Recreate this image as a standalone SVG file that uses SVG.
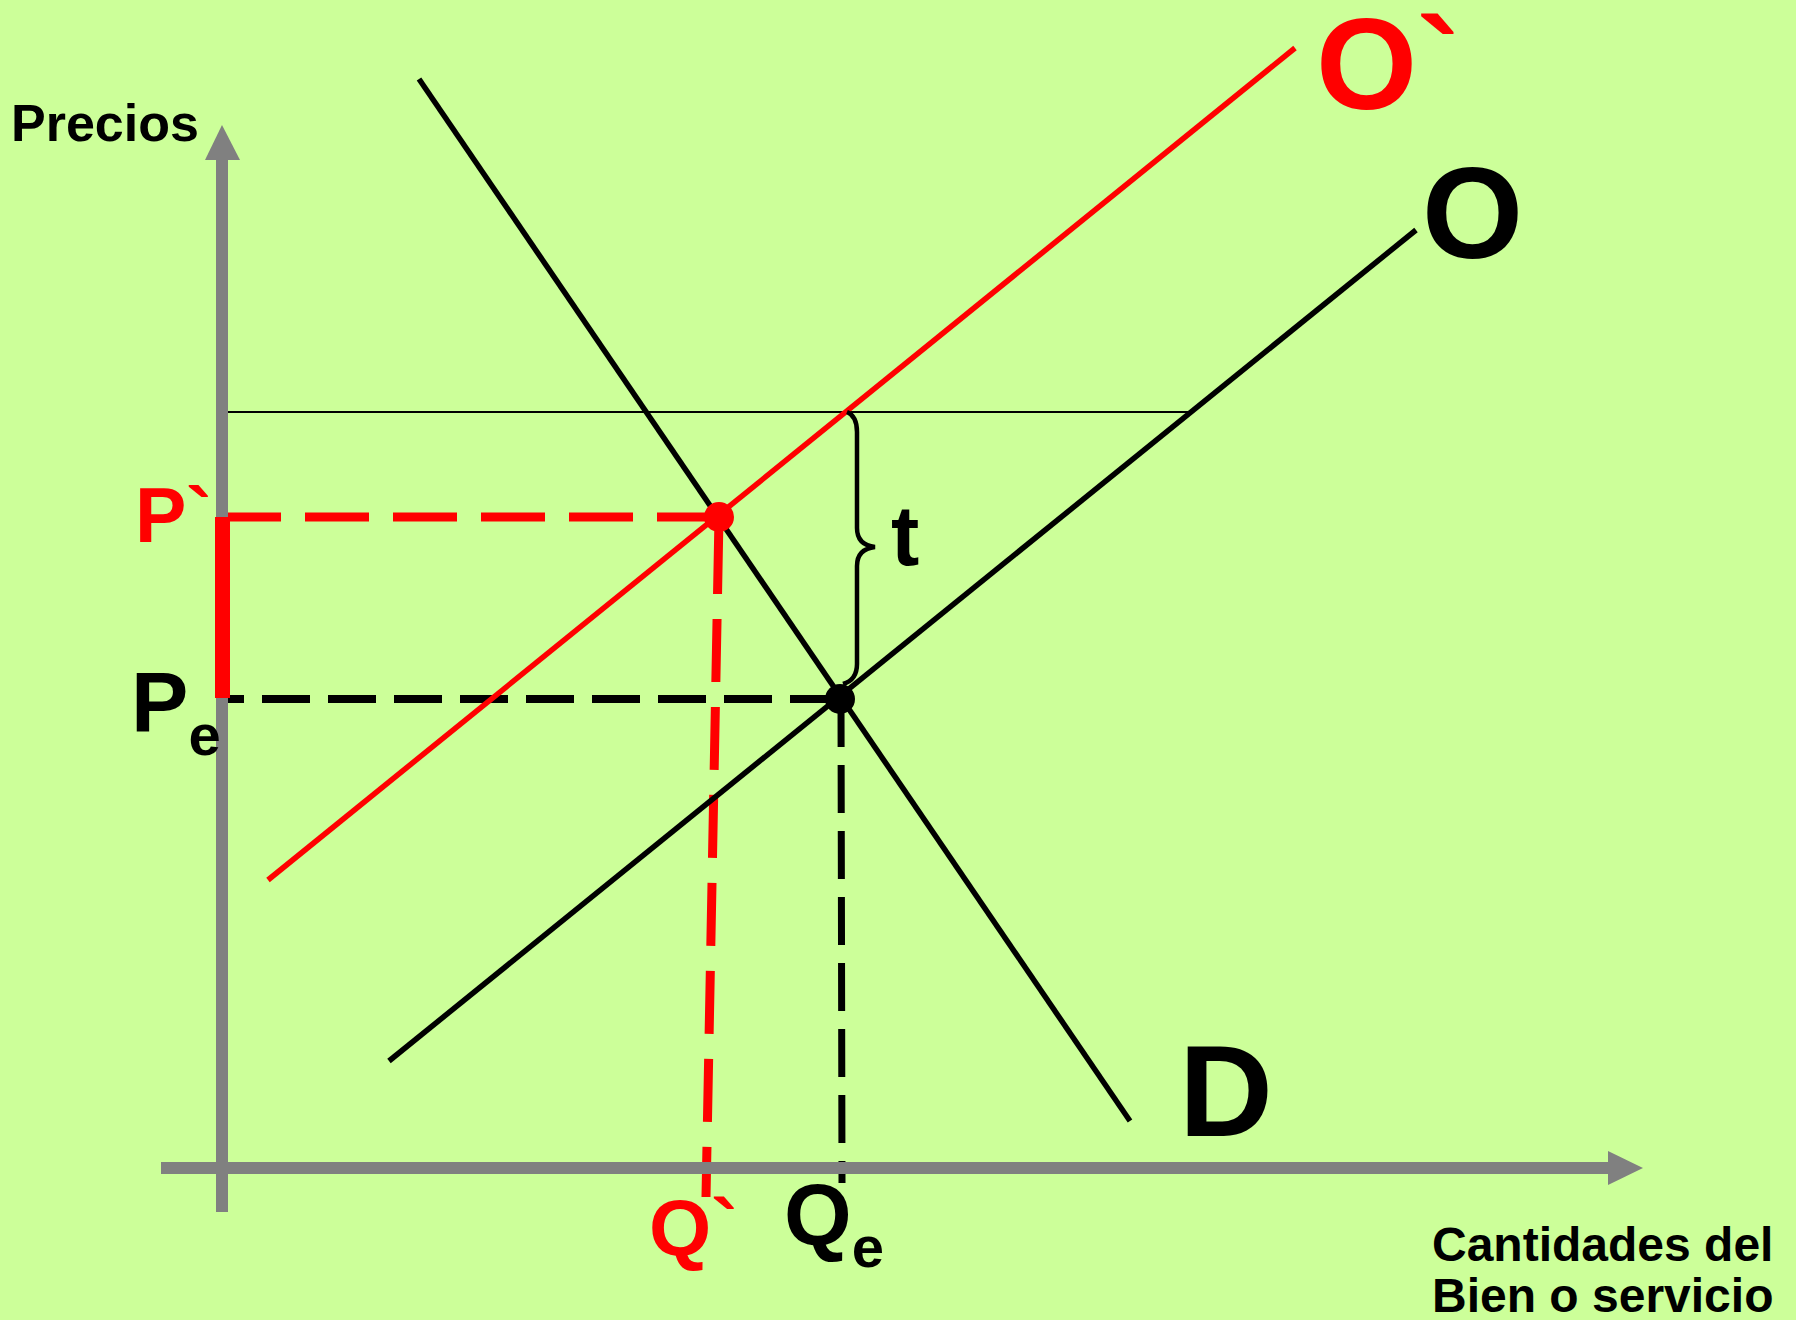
<svg xmlns="http://www.w3.org/2000/svg" width="1796" height="1320" viewBox="0 0 1796 1320">
<style>
.lbl{font-family:"Liberation Sans",Arial,sans-serif;font-weight:bold}
.blk{fill:#000}
.red{fill:#ff0000}
.axis{stroke:#808080;stroke-width:12;fill:none}
.curve{stroke-width:5.5;fill:none}
</style>
<rect x="0" y="0" width="1796" height="1320" fill="#ccff99"/>
<g id="labels-back">
<text class="lbl red" x="135" y="542" font-size="77">P`</text>
</g>
<g id="connectors">
<line id="guide-top" x1="222" y1="412" x2="1191" y2="412" stroke="#000" stroke-width="2"/>
<line id="pe-dash" x1="226" y1="699" x2="840" y2="699" stroke="#000" stroke-width="8" stroke-dasharray="48 18" stroke-dashoffset="30"/>
<line id="qe-dash" x1="841" y1="699" x2="842" y2="1183" stroke="#000" stroke-width="7" stroke-dasharray="48 18"/>
<line id="p2-dash" x1="217" y1="517" x2="719" y2="517" stroke="#ff0000" stroke-width="9" stroke-dasharray="64 24"/>
<line id="q2-dash" x1="719" y1="517" x2="706" y2="1197" stroke="#ff0000" stroke-width="9" stroke-dasharray="63 25" stroke-dashoffset="-14"/>
<line id="supply-O" class="curve" x1="389" y1="1061" x2="1416" y2="230" stroke="#000"/>
<line id="supply-O2" class="curve" x1="268" y1="880" x2="1295" y2="48" stroke="#ff0000" stroke-width="5"/>
<line id="demand-D" class="curve" x1="419" y1="79" x2="1130" y2="1121" stroke="#000"/>
<path id="brace" d="M847,412 Q857,416 857,432 L857,528 Q857,545 875,547 Q857,549 857,566 L857,664 Q857,680 843,684" stroke="#000" stroke-width="4.5" fill="none"/>
</g>
<g id="axes">
<line class="axis" x1="222" y1="158" x2="222" y2="1212"/>
<polygon points="222,125 205,160 240,160" fill="#808080"/>
<line class="axis" x1="161" y1="1168" x2="1610" y2="1168"/>
<polygon points="1643,1168 1608,1151 1608,1185" fill="#808080"/>
</g>
<g id="tax-bar">
<line x1="222.5" y1="517" x2="222.5" y2="698" stroke="#ff0000" stroke-width="15"/>
</g>
<g id="eq-new"><circle cx="719" cy="517" r="15" fill="#ff0000"/></g>
<g id="eq-orig"><circle cx="840" cy="699" r="15" fill="#000"/></g>
<g id="labels">
<text class="lbl blk" x="11" y="141" font-size="52">Precios</text>
<text class="lbl red" x="1316" y="109" font-size="130">O`</text>
<text class="lbl blk" x="1422" y="258" font-size="130">O</text>
<text class="lbl blk" x="1179" y="1136" font-size="130">D</text>
<text class="lbl blk" x="891" y="565" font-size="85">t</text>
<text class="lbl blk" x="131" y="732" font-size="86">P<tspan font-size="58" dy="23">e</tspan></text>
<text class="lbl red" x="649" y="1255" font-size="80">Q`</text>
<text class="lbl blk" x="784" y="1245" font-size="87">Q<tspan font-size="58" dy="22">e</tspan></text>
<text class="lbl blk" x="1432" y="1261" font-size="48">Cantidades del</text>
<text class="lbl blk" x="1432" y="1312" font-size="48">Bien o servicio</text>
</g>
</svg>
